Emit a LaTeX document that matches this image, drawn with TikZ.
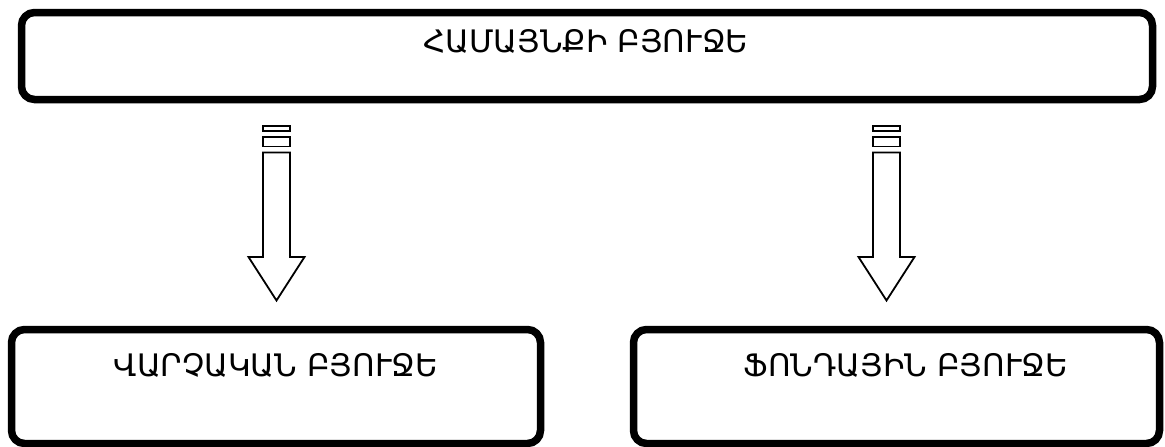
\documentclass[tikz,border=0pt]{standalone}
\usepackage{fontspec}
\setmainfont{DejaVu Sans}
\begin{document}
\begin{tikzpicture}[x=1pt,y=-1pt,
  boxstyle/.style={draw=black, line width=7.5pt, rounded corners=13pt, fill=white},
  lbl/.style={font=\fontsize{31}{36}\selectfont, inner sep=0pt, anchor=base},
  blockarrow/.style={draw=black, line width=1.8pt, fill=white, line join=miter}]
\useasboundingbox (0,0) rectangle (1165,447);
\fill[white] (0,0) rectangle (1165,447);
% boxes
\draw[boxstyle] (21.5,12.5) rectangle (1152.5,99.5);
\draw[boxstyle] (11.5,329.5) rectangle (540.5,443.5);
\draw[boxstyle] (633.5,329.5) rectangle (1159.5,443.5);
% labels
\node[lbl] (t1) at (586,52) {ՀԱՄԱՅՆՔԻ ԲՅՈՒՋԵ};
\node[lbl] (t2) at (276,376) {ՎԱՐՉԱԿԱՆ ԲՅՈՒՋԵ};
\node[lbl] (t3) at (906,376) {ՖՈՆԴԱՅԻՆ ԲՅՈՒՋԵ};
% striped block arrows
\foreach \cx/\nm in {276.5/la, 886.5/ra}{
  \begin{scope}[shift={(\cx,0)}]
    \draw[blockarrow] (-13.5,126) rectangle (13.5,131);
    \draw[blockarrow] (-13.5,137) rectangle (13.5,146.5);
    \draw[blockarrow] (-13.5,152.5) -- (13.5,152.5) -- (13.5,257) -- (28,257)
      -- (0,300.5) -- (-28,257) -- (-13.5,257) -- cycle;
  \end{scope}
}
\end{tikzpicture}
\end{document}
